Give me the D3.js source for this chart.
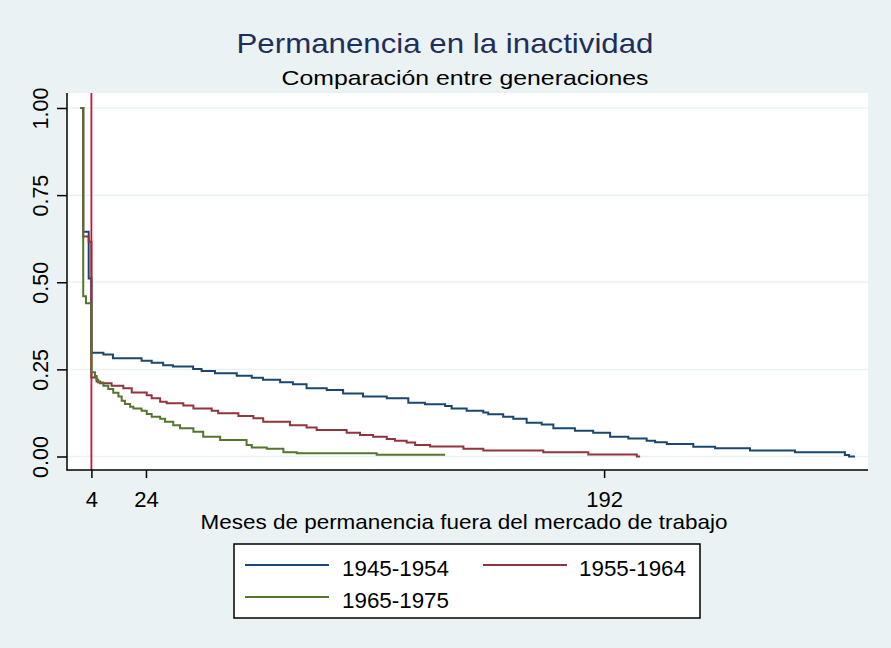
<!DOCTYPE html>
<html>
<head>
<meta charset="utf-8">
<script src="https://cdn.jsdelivr.net/npm/d3@7"></script>
<style>
  html, body { margin: 0; padding: 0; background: #eaf2f3; }
  svg { display: block; }
  text { font-family: "Liberation Sans", Arial, Helvetica, sans-serif; }
</style>
</head>
<body>
<svg id="chart" width="891" height="648"></svg>
<script>
// ---- Data (Kaplan-Meier step points: time in months where the value changes, survival value) ----
const seriesNames = ["1945-1954", "1955-1964", "1965-1975"];
const seriesColors = ["#1a476f", "#90353b", "#55752f"];

const t1945 = [0, 1, 3, 4, 8.4, 11.9, 22.4, 26.1, 30.3, 33.9, 41.3, 44.4, 49.3, 57.3, 62.8, 66.9, 73.2, 77.9, 82.9, 90.3, 96.3, 103.6, 112.3, 120.2, 126.3, 133.7, 136.1, 141.6, 147.7, 149.5, 155.0, 158.7, 163.6, 169.1, 173.4, 181.3, 188.0, 194.2, 200.9, 207.6, 210.7, 215.0, 224.7, 232.7, 245.5, 262.0, 280.3, 281.8];
const s1945 = [1, .645, .511, .298, .293, .282, .275, .269, .262, .258, .251, .245, .239, .232, .226, .220, .213, .207, .196, .191, .181, .172, .167, .154, .150, .145, .138, .131, .126, .121, .114, .108, .097, .092, .081, .074, .068, .057, .052, .045, .041, .036, .028, .024, .017, .012, .004, .000];
const end1945 = 284;

const t1955 = [0, 1, 3, 4, 5.9, 7.2, 11.4, 15.7, 18.8, 24.3, 26.1, 29.2, 31.6, 37.7, 41.4, 48.1, 50.5, 57.9, 63.4, 67.0, 76.8, 82.9, 86.6, 97.6, 102.5, 107.3, 112.3, 115.3, 119.6, 122.7, 128.2, 140.4, 147.7, 169.7, 186.2, 204.0];
const s1955 = [1, .631, .616, .227, .215, .210, .203, .196, .184, .176, .167, .157, .153, .146, .138, .131, .124, .116, .110, .100, .090, .083, .076, .068, .062, .057, .050, .045, .040, .033, .029, .022, .017, .012, .006, .000];
const end1955 = 205.2;

const t1965 = [0, 1, 2, 4, 5.3, 5.9, 6.5, 8.4, 10.2, 12.0, 13.9, 15.1, 16.3, 18.2, 19.4, 22.4, 24.3, 26.1, 29.2, 31.0, 34.0, 36.5, 41.4, 45.0, 51.2, 60.9, 62.8, 68.3, 74.4, 79.3, 108.6];
const s1965 = [1, .46, .44, .242, .231, .220, .212, .203, .194, .183, .172, .160, .151, .143, .138, .131, .122, .114, .108, .100, .090, .081, .071, .057, .047, .033, .026, .022, .012, .009, .005];
const end1965 = 133.7;

const xTicks = [4, 24, 192];
const yTicks = [0, 0.25, 0.5, 0.75, 1];
const refLine = 4;

const titleText = "Permanencia en la inactividad";
const subtitleText = "Comparación entre generaciones";
const xTitle = "Meses de permanencia fuera del mercado de trabajo";

// ---- Layout ----
const svg = d3.select("#chart");
const W = 891, H = 648;
const plot = { left: 67, right: 868, top: 93, bottom: 470 };

svg.append("rect").attr("x", 0).attr("y", 0).attr("width", W).attr("height", H).attr("fill", "#eaf2f3");
svg.append("rect").attr("x", plot.left).attr("y", plot.top)
  .attr("width", plot.right - plot.left).attr("height", plot.bottom - plot.top).attr("fill", "#ffffff");

const x = d3.scaleLinear().domain([0, 284]).range([80.5, 855]);
const y = d3.scaleLinear().domain([0, 1]).range([456.5, 108]);

// gridlines
svg.append("g").selectAll("line").data(yTicks).join("line")
  .attr("x1", plot.left).attr("x2", plot.right)
  .attr("y1", d => y(d)).attr("y2", d => y(d))
  .attr("stroke", "#eaf2f3").attr("stroke-width", 1.5);

// reference line
svg.append("line")
  .attr("x1", x(refLine)).attr("x2", x(refLine))
  .attr("y1", plot.top).attr("y2", plot.bottom)
  .attr("stroke", "#c8143c").attr("stroke-width", 1.8);

// curves
const series = [
  { name: seriesNames[0], t: t1945, s: s1945, end: end1945, color: seriesColors[0] },
  { name: seriesNames[1], t: t1955, s: s1955, end: end1955, color: seriesColors[1] },
  { name: seriesNames[2], t: t1965, s: s1965, end: end1965, color: seriesColors[2] }
];
const line = d3.line().x(d => x(d[0])).y(d => y(d[1])).curve(d3.curveStepAfter);
series.forEach(sr => {
  const pts = sr.t.map((t, i) => [t, sr.s[i]]);
  pts.push([sr.end, sr.s[sr.s.length - 1]]);
  svg.append("path").datum(pts).attr("d", line)
    .attr("fill", "none").attr("stroke", sr.color).attr("stroke-width", 2)
    .attr("stroke-linejoin", "miter");
});

// axes
const yAxis = d3.axisLeft(y).tickValues(yTicks).tickFormat(d3.format(".2f")).tickSize(10).tickSizeOuter(0);
const gy = svg.append("g").attr("transform", `translate(${plot.left},0)`).call(yAxis);
gy.select(".domain").remove();
gy.selectAll(".tick line").attr("stroke", "#000").attr("stroke-width", 1.5);
gy.selectAll(".tick text").remove();
gy.selectAll(".tick").append("text")
  .attr("transform", "translate(-19,0) rotate(-90)")
  .attr("text-anchor", "middle")
  .attr("fill", "#000")
  .style("font-size", "21.5px")
  .text(d => d3.format(".2f")(d));

const xAxis = d3.axisBottom(x).tickValues(xTicks).tickSize(8).tickSizeOuter(0);
const gx = svg.append("g").attr("transform", `translate(0,${plot.bottom})`).call(xAxis);
gx.select(".domain").remove();
gx.selectAll(".tick line").attr("stroke", "#000").attr("stroke-width", 1.5);
gx.selectAll(".tick text").attr("y", 37).attr("dy", null)
  .attr("fill", "#000").style("font-size", "22px");

svg.append("line").attr("x1", plot.left).attr("x2", plot.left)
  .attr("y1", plot.top).attr("y2", plot.bottom + 0.75).attr("stroke", "#000").attr("stroke-width", 1.5);
svg.append("line").attr("x1", plot.left).attr("x2", plot.right)
  .attr("y1", plot.bottom).attr("y2", plot.bottom).attr("stroke", "#000").attr("stroke-width", 1.5);

// titles
svg.append("text").attr("x", 445).attr("y", 52.5).attr("text-anchor", "middle")
  .attr("fill", "#1e2f5c").style("font-size", "28px")
  .attr("textLength", 417).attr("lengthAdjust", "spacingAndGlyphs").text(titleText);
svg.append("text").attr("x", 465).attr("y", 84.5).attr("text-anchor", "middle")
  .attr("fill", "#000").style("font-size", "21px")
  .attr("textLength", 367).attr("lengthAdjust", "spacingAndGlyphs").text(subtitleText);
svg.append("text").attr("x", 464).attr("y", 529).attr("text-anchor", "middle")
  .attr("fill", "#000").style("font-size", "21px")
  .attr("textLength", 527).attr("lengthAdjust", "spacingAndGlyphs").text(xTitle);

// legend
const lg = svg.append("g");
lg.append("rect").attr("x", 234).attr("y", 544).attr("width", 466).attr("height", 74)
  .attr("fill", "#fff").attr("stroke", "#000").attr("stroke-width", 1.5);
const legPos = [
  { lx: 245, ly: 565, tx: 342, ty: 575.5 },
  { lx: 483, ly: 565, tx: 579, ty: 575.5 },
  { lx: 245, ly: 597, tx: 342, ty: 607.5 }
];
series.forEach((sr, i) => {
  const p = legPos[i];
  lg.append("line").attr("x1", p.lx).attr("x2", p.lx + 84).attr("y1", p.ly).attr("y2", p.ly)
    .attr("stroke", sr.color).attr("stroke-width", 2);
  lg.append("text").attr("x", p.tx).attr("y", p.ty).attr("fill", "#000")
    .style("font-size", "22px")
    .attr("textLength", 107).attr("lengthAdjust", "spacingAndGlyphs").text(sr.name);
});
</script>
</body>
</html>
